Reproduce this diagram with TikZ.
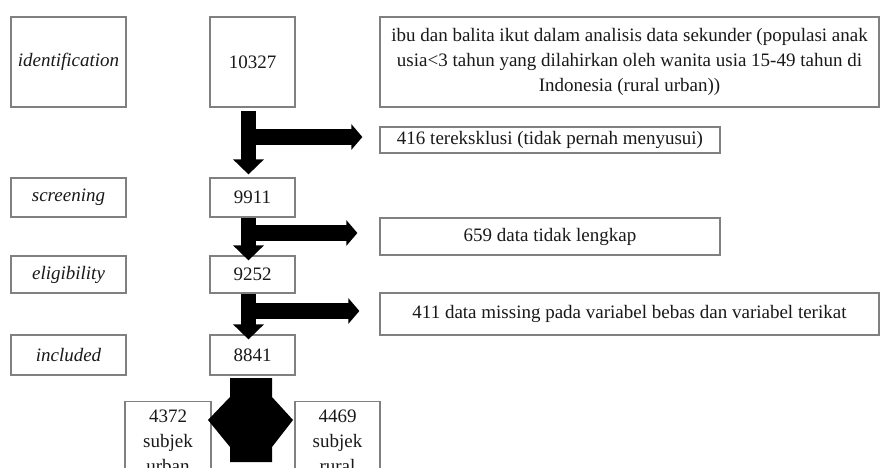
\documentclass[tikz,border=0pt]{standalone}
\usepackage{fontspec}
\setmainfont{Liberation Serif}
\usetikzlibrary{arrows.meta}
\definecolor{boxgray}{RGB}{128,128,128}
\definecolor{txt}{RGB}{25,25,25}
\begin{document}
\begin{tikzpicture}[x=1pt,y=-1pt,
  box/.style={draw=boxgray, line width=1.2pt, rectangle, inner sep=0pt, align=center,
    font=\fontsize{19}{25}\selectfont, text=txt},
  stage/.style={box, minimum width=115pt, font=\fontsize{19}{25}\selectfont\itshape},
  count/.style={box, minimum width=85pt},
  fatv/.style={line width=15pt, black, -{Triangle[width=30pt,length=15pt]}},
  fath/.style={line width=16pt, black, -{Triangle[width=25pt,length=11pt]}}]
\clip (0,0) rectangle (880,468);
\fill[white] (0,0) rectangle (880,468);
% stage labels
\node[stage, minimum height=90pt] (ident) at (68.5,62) {identification};
\node[stage, minimum height=39pt] (screen) at (68.5,197.5) {screening};
\node[stage, minimum height=37pt] (elig) at (68.5,274.5) {eligibility};
\node[stage, minimum height=40pt] (incl) at (68.5,355) {included};
% counts
\node[count, minimum height=90pt] (n10327) at (252.5,62) {10327};
\node[count, minimum height=39pt] (n9911) at (252.5,197.5) {9911};
\node[count, minimum height=37pt] (n9252) at (252.5,274.5) {9252};
\node[count, minimum height=40pt] (n8841) at (252.5,355) {8841};
% right side
\node[box, minimum width=499pt, minimum height=90pt] (ibu) at (629.5,62)
  {ibu dan balita ikut dalam analisis data sekunder (populasi anak\\
   usia<3 tahun yang dilahirkan oleh wanita usia 15-49 tahun di\\
   Indonesia (rural urban))};
\node[box, minimum width=340pt, minimum height=26pt] (ex1) at (550,140)
  {416 tereksklusi (tidak pernah menyusui)};
\node[box, minimum width=340pt, minimum height=37pt] (ex2) at (550,236.5)
  {659 data tidak lengkap};
\node[box, minimum width=499pt, minimum height=42pt] (ex3) at (629.5,314)
  {411 data missing pada variabel bebas dan variabel terikat};
% split boxes
\node[box, anchor=north, minimum width=86pt, minimum height=100pt] (urban) at (168,401) {};
\node[box, anchor=north, minimum width=85pt, minimum height=100pt] (rural) at (337.5,401) {};
\node[font=\fontsize{19}{25}\selectfont, text=txt, align=center, anchor=north, inner sep=0pt] (ut) at ([yshift=-4pt]urban.north) {\strut4372\\subjek\\urban};
\node[font=\fontsize{19}{25}\selectfont, text=txt, align=center, anchor=north, inner sep=0pt] (rt) at ([yshift=-4pt]rural.north) {\strut4469\\subjek\\rural};
% arrows
\draw[fatv, shorten <=3pt, shorten >=3pt] ([xshift=-4pt]n10327.south) -- ([xshift=-4pt]n9911.north);
\coordinate (h1) at (249,137);
\draw[fath, shorten >=17pt] (h1) -- (h1 -| ex1.west);
\draw[fatv, shorten >=-5pt] ([xshift=-4pt]n9911.south) -- ([xshift=-4pt]n9252.north);
\coordinate (h2) at (249,233);
\draw[fath, shorten >=22pt] (h2) -- (h2 -| ex2.west);
\draw[fatv, shorten >=-5pt] ([xshift=-4pt]n9252.south) -- ([xshift=-4pt]n8841.north);
\coordinate (h3) at (249,311);
\draw[fath, shorten >=20pt] (h3) -- (h3 -| ex3.west);
% split double arrow
\fill[black] (230,378) -- (272,378) -- (272,397) -- (293,420) -- (272,447) -- (272,462)
  -- (230,462) -- (230,447) -- (208,420) -- (230,397) -- cycle;
\end{tikzpicture}
\end{document}
